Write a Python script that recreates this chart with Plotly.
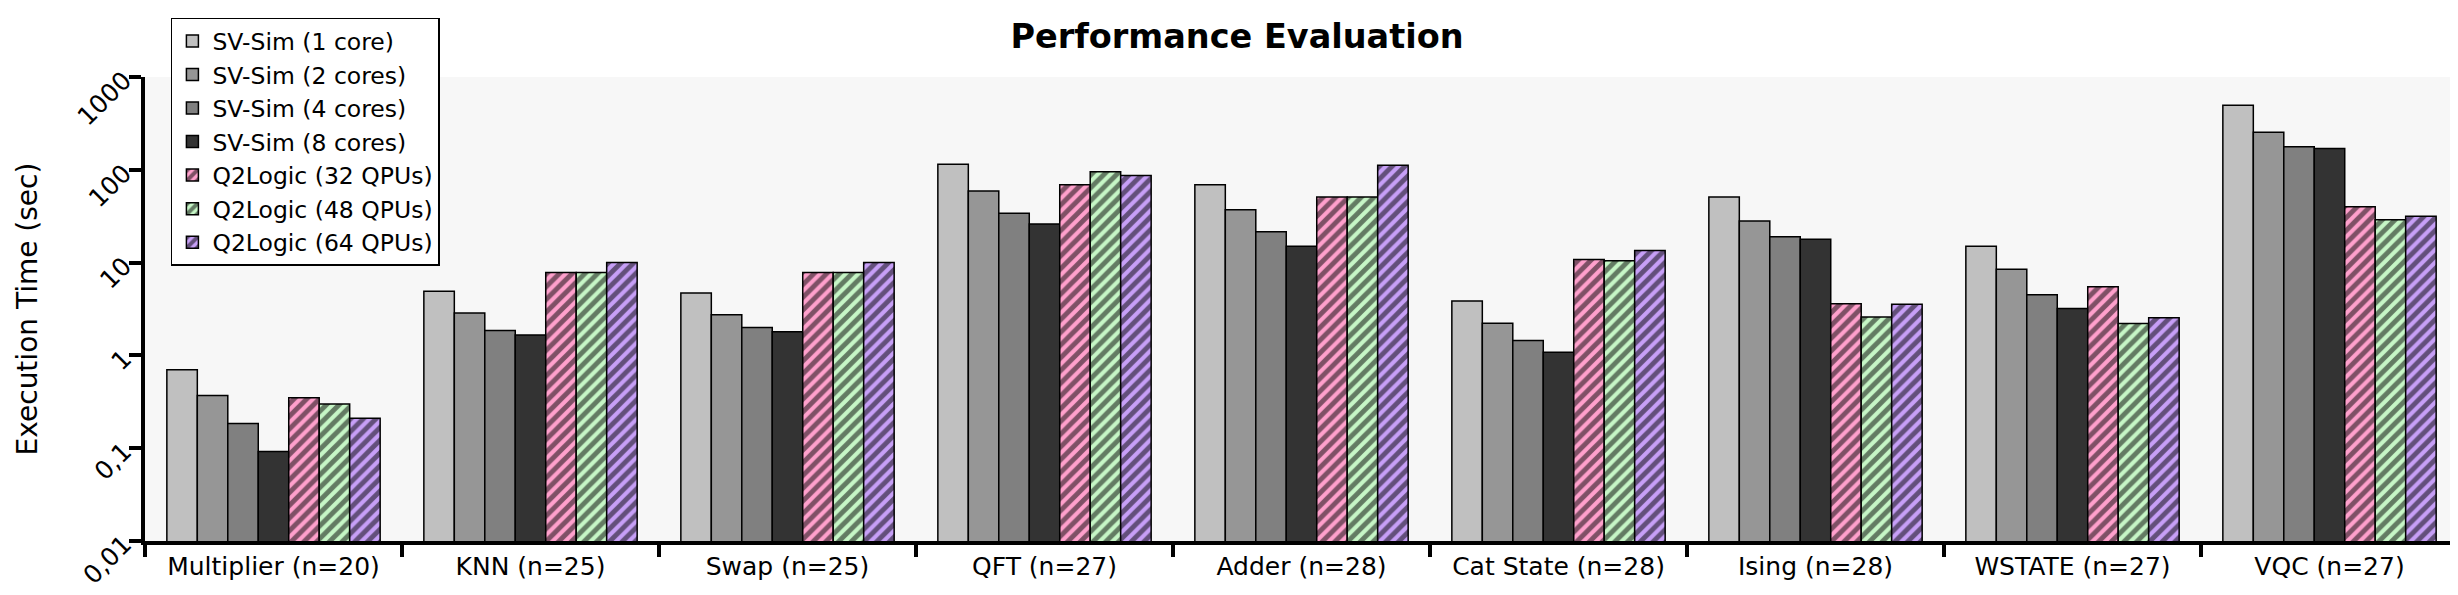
import plotly.graph_objects as go

categories = ["Multiplier (n=20)", "KNN (n=25)", "Swap (n=25)", "QFT (n=27)", "Adder (n=28)",
              "Cat State (n=28)", "Ising (n=28)", "WSTATE (n=27)", "VQC (n=27)"]

sv_1core  = [0.70, 4.9, 4.7, 115, 69, 3.85, 51, 15, 495]
sv_2cores = [0.37, 2.86, 2.75, 59, 37, 2.22, 28, 8.5, 254]
sv_4cores = [0.185, 1.86, 2.0, 34, 21.5, 1.45, 19, 4.5, 177]
sv_8cores = [0.092, 1.66, 1.8, 26, 15, 1.08, 17.8, 3.2, 170]
q2_32 = [0.35, 7.8, 7.8, 69, 51, 10.8, 3.6, 5.5, 40]
q2_48 = [0.30, 7.8, 7.8, 95, 51, 10.5, 2.6, 2.2, 29]
q2_64 = [0.21, 10, 10, 87, 112, 13.5, 3.55, 2.55, 31.5]

series_names = ["SV-Sim (1 core)", "SV-Sim (2 cores)", "SV-Sim (4 cores)", "SV-Sim (8 cores)",
                "Q2Logic (32 QPUs)", "Q2Logic (48 QPUs)", "Q2Logic (64 QPUs)"]
series_values = [sv_1core, sv_2cores, sv_4cores, sv_8cores, q2_32, q2_48, q2_64]
series_colors = ["#c0c0c0", "#969696", "#808080", "#333333", "#ffa0cc", "#c6f6c6", "#c79ff7"]
hatched = [False, False, False, False, True, True, True]

ytick_vals = [0.01, 0.1, 1, 10, 100, 1000]
ytick_text = ["0,01", "0,1", "1", "10", "100", "1000"]

FONT = "DejaVu Sans"

fig = go.Figure()
for name, vals, col, h in zip(series_names, series_values, series_colors, hatched):
    marker = dict(color=col, line=dict(color="black", width=1.5))
    if h:
        marker["pattern"] = dict(shape="/", fgcolor="black", bgcolor=col, size=9, solidity=0.55)
    fig.add_trace(go.Bar(name=name, x=categories, y=vals, marker=marker))

fig.update_layout(
    width=2458, height=595,
    barmode="group", bargap=0.17, bargroupgap=0,
    paper_bgcolor="white", plot_bgcolor="#f7f7f7",
    margin=dict(l=137, r=8, t=69, b=62),
    font=dict(family=FONT, size=25, color="black"),
    title=dict(text="<b>Performance Evaluation</b>", x=0.5, xref="container", xanchor="center",
               y=0.953, yref="container", yanchor="middle", font=dict(size=33.5, family=FONT)),
    legend=dict(x=0.0112, y=1.128, xanchor="left", yanchor="top", bgcolor="white",
                bordercolor="black", borderwidth=1.5, font=dict(size=23.5, family=FONT),
                tracegroupgap=0, traceorder="normal"),
    showlegend=True,
)
fig.update_xaxes(type="category", showline=True, linecolor="black", linewidth=3.5,
                 ticks="outside", tickson="boundaries", ticklen=12, tickwidth=3.5, tickcolor="black",
                 showgrid=False, tickfont=dict(size=25, family=FONT), mirror=False)
fig.update_yaxes(type="log", range=[-2, 3], showline=True, linecolor="black", linewidth=3.5,
                 ticks="outside", ticklen=12, tickwidth=3.5, tickcolor="black",
                 tickvals=ytick_vals, ticktext=ytick_text, tickangle=-45,
                 showgrid=False, zeroline=False, tickfont=dict(size=25, family=FONT),
                 title=dict(text="Execution Time (sec)", font=dict(size=28, family=FONT), standoff=27))

fig.write_html("out.html")
